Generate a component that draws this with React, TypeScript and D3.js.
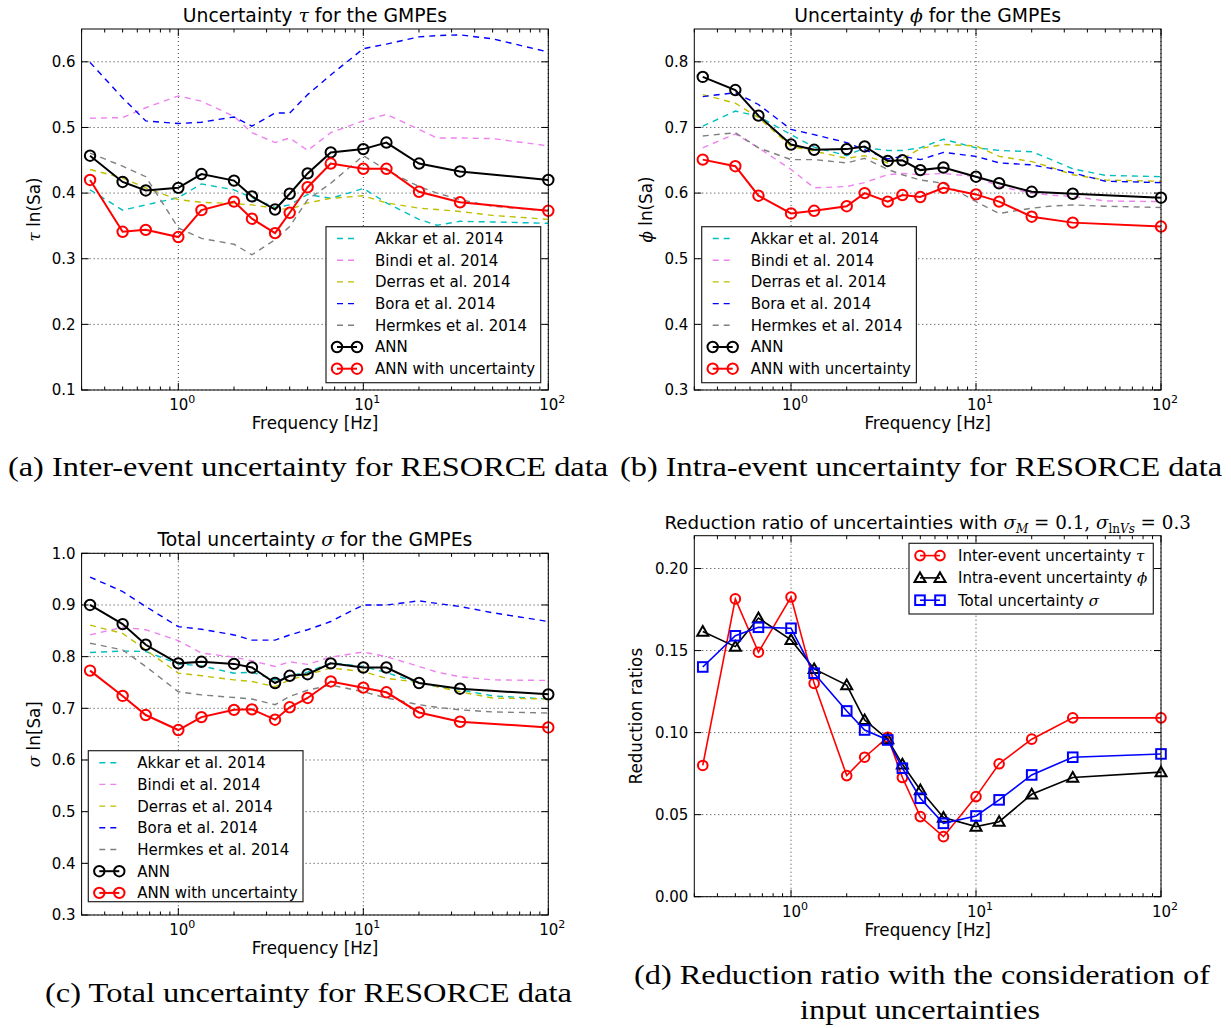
import React from "react";
import * as d3 from "d3";

// ---------- data ----------
const annFreqs = [1 / 3, 0.5, 2 / 3, 1, 4 / 3, 2, 2.5, 10 / 3, 4, 5, 20 / 3, 10, 40 / 3, 20, 100 / 3, 100];
const gmpeFreqs = [1 / 3, 0.5, 2 / 3, 1, 4 / 3, 2, 2.5, 10 / 3, 4, 5, 20 / 3, 10, 40 / 3, 20, 25, 100 / 3, 50, 100];

const gmpeNames = ["Akkar et al. 2014", "Bindi et al. 2014", "Derras et al. 2014", "Bora et al. 2014", "Hermkes et al. 2014"];
const annNames = ["ANN", "ANN with uncertainty"];
const xTickLabels = ["0", "1", "2"];

// inter-event tau
const tauAkkar = [0.405, 0.374, 0.382, 0.393, 0.414, 0.405, 0.393, 0.378, 0.382, 0.398, 0.392, 0.407, 0.385, 0.36, 0.351, 0.357, 0.356, 0.354];
const tauBindi = [0.514, 0.515, 0.53, 0.548, 0.54, 0.517, 0.492, 0.477, 0.484, 0.465, 0.492, 0.51, 0.52, 0.497, 0.484, 0.484, 0.483, 0.472];
const tauDerras = [0.436, 0.423, 0.408, 0.39, 0.386, 0.384, 0.382, 0.377, 0.375, 0.385, 0.392, 0.396, 0.385, 0.377, 0.375, 0.372, 0.366, 0.36];
const tauBora = [0.599, 0.545, 0.51, 0.506, 0.508, 0.516, 0.502, 0.522, 0.522, 0.55, 0.58, 0.62, 0.627, 0.638, 0.64, 0.641, 0.635, 0.615];
const tauHermkes = [0.461, 0.441, 0.425, 0.347, 0.331, 0.322, 0.306, 0.329, 0.349, 0.39, 0.415, 0.457, 0.435, 0.41, 0.4, 0.39, 0.38, 0.373];
const tauAnn = [0.457, 0.417, 0.404, 0.408, 0.429, 0.419, 0.395, 0.375, 0.399, 0.43, 0.462, 0.467, 0.477, 0.445, 0.433, 0.42];
const tauAnnUnc = [0.42, 0.341, 0.344, 0.333, 0.374, 0.387, 0.361, 0.339, 0.37, 0.409, 0.445, 0.437, 0.437, 0.402, 0.386, 0.373];

// intra-event phi
const phiAkkar = [0.702, 0.725, 0.717, 0.689, 0.67, 0.657, 0.669, 0.665, 0.665, 0.669, 0.682, 0.669, 0.665, 0.663, 0.652, 0.637, 0.627, 0.625];
const phiBindi = [0.669, 0.69, 0.669, 0.636, 0.608, 0.61, 0.616, 0.628, 0.63, 0.628, 0.63, 0.625, 0.61, 0.6, 0.597, 0.595, 0.588, 0.587];
const phiDerras = [0.75, 0.737, 0.715, 0.671, 0.664, 0.653, 0.657, 0.646, 0.652, 0.668, 0.674, 0.672, 0.656, 0.648, 0.64, 0.628, 0.62, 0.618];
const phiBora = [0.747, 0.753, 0.735, 0.697, 0.689, 0.677, 0.666, 0.652, 0.656, 0.651, 0.662, 0.656, 0.646, 0.643, 0.638, 0.631, 0.618, 0.616];
const phiHermkes = [0.687, 0.692, 0.669, 0.651, 0.651, 0.646, 0.653, 0.636, 0.628, 0.62, 0.615, 0.587, 0.569, 0.577, 0.58, 0.582, 0.58, 0.578];
const phiAnn = [0.777, 0.757, 0.718, 0.674, 0.666, 0.667, 0.671, 0.649, 0.65, 0.635, 0.639, 0.625, 0.615, 0.602, 0.599, 0.593];
const phiAnnUnc = [0.651, 0.641, 0.596, 0.569, 0.573, 0.58, 0.6, 0.587, 0.597, 0.594, 0.608, 0.598, 0.587, 0.564, 0.555, 0.549];

// total sigma
const sigAkkar = [0.808, 0.811, 0.81, 0.786, 0.782, 0.768, 0.77, 0.755, 0.763, 0.77, 0.788, 0.781, 0.769, 0.749, 0.742, 0.736, 0.724, 0.718];
const sigBindi = [0.842, 0.857, 0.852, 0.831, 0.807, 0.799, 0.792, 0.781, 0.79, 0.785, 0.799, 0.809, 0.8, 0.781, 0.77, 0.761, 0.755, 0.754];
const sigDerras = [0.861, 0.845, 0.813, 0.768, 0.763, 0.755, 0.752, 0.742, 0.755, 0.765, 0.778, 0.771, 0.758, 0.75, 0.742, 0.732, 0.72, 0.718];
const sigBora = [0.954, 0.926, 0.897, 0.858, 0.853, 0.842, 0.832, 0.832, 0.842, 0.852, 0.868, 0.9, 0.9, 0.908, 0.903, 0.897, 0.885, 0.868];
const sigHermkes = [0.826, 0.813, 0.781, 0.732, 0.726, 0.721, 0.718, 0.707, 0.723, 0.735, 0.745, 0.732, 0.72, 0.707, 0.702, 0.697, 0.693, 0.691];
const sigAnn = [0.9, 0.863, 0.823, 0.787, 0.79, 0.786, 0.779, 0.749, 0.763, 0.766, 0.787, 0.779, 0.779, 0.749, 0.738, 0.727];
const sigAnnUnc = [0.773, 0.724, 0.687, 0.658, 0.683, 0.697, 0.698, 0.678, 0.702, 0.72, 0.752, 0.74, 0.731, 0.692, 0.674, 0.663];

// reduction ratios
const ratioTau = [0.08, 0.1815, 0.149, 0.1826, 0.13, 0.0738, 0.085, 0.0972, 0.0726, 0.0488, 0.0366, 0.061, 0.081, 0.096, 0.109, 0.109];
const ratioPhi = [0.1616, 0.1524, 0.1698, 0.1565, 0.1388, 0.129, 0.1077, 0.096, 0.0807, 0.065, 0.0482, 0.0427, 0.0457, 0.0624, 0.0726, 0.0759];
const ratioSigma = [0.14, 0.159, 0.1642, 0.1636, 0.1362, 0.1132, 0.1016, 0.0955, 0.0783, 0.06, 0.0447, 0.0492, 0.059, 0.0742, 0.085, 0.087];

const tauTicks = [0.1, 0.2, 0.3, 0.4, 0.5, 0.6];
const phiTicks = [0.3, 0.4, 0.5, 0.6, 0.7, 0.8];
const sigTicks = [0.3, 0.4, 0.5, 0.6, 0.7, 0.8, 0.9, 1.0];
const ratioTicks = [0, 0.05, 0.1, 0.15, 0.2];

// ---------- styles ----------
const gmpeColors = ["#00bfbf", "#ee82ee", "#bfbf00", "#0000ff", "#808080"];
const SANS = "DejaVu Sans";
const MATH = "DejaVu Serif";
const CAP = "Liberation Serif";
const LABEL_SIZE = 16.8;

type Series = {
  freqs: number[];
  vals: number[];
  color: string;
  dashed?: boolean;
  marker?: "circle" | "triangle" | "square";
  width: number;
  label: React.ReactNode;
};

type PanelProps = {
  x0: number; x1: number; y0: number; y1: number;
  yDomain: [number, number];
  yTicks: number[];
  yFmt: (v: number) => string;
  title: React.ReactNode;
  titleSize: number;
  ylabel: React.ReactNode;
  ylabelOff: number;
  series: Series[];
  legend: { x: number; y: number; w: number; h: number; rowH: number; first: number; ms: number };
};

function Marker({ kind, x, y, color, size }: { kind: string; x: number; y: number; color: string; size: number }) {
  if (kind === "circle") return <circle cx={x} cy={y} r={size} fill="none" stroke={color} strokeWidth={2} />;
  if (kind === "square")
    return <rect x={x - size} y={y - size} width={size * 2} height={size * 2} fill="none" stroke={color} strokeWidth={2} />;
  const s = size * 1.15;
  return (
    <path
      d={`M${x},${y - s} L${x + s},${y + s * 0.75} L${x - s},${y + s * 0.75} Z`}
      fill="none"
      stroke={color}
      strokeWidth={2}
      strokeLinejoin="miter"
    />
  );
}

function Panel(p: PanelProps) {
  const x = d3.scaleLog().domain([0.3, 100]).range([p.x0, p.x1]);
  const y = d3.scaleLinear().domain(p.yDomain).range([p.y1, p.y0]);
  const line = d3
    .line<[number, number]>()
    .x((d) => x(d[0]))
    .y((d) => y(d[1]));
  const majors = [1, 10, 100];
  const minors: number[] = [];
  [0.1, 1, 10].forEach((dec) => {
    for (let k = 2; k <= 9; k++) {
      const v = k * dec;
      if (v >= 0.3 && v <= 100) minors.push(v);
    }
  });
  const cx = (p.x0 + p.x1) / 2;
  const cy = (p.y0 + p.y1) / 2;
  const L = p.legend;
  return (
    <g fontFamily={SANS}>
      {/* grid */}
      {majors.map((m) => (
        <line key={"gx" + m} x1={x(m)} x2={x(m)} y1={p.y0} y2={p.y1} stroke="#000" strokeWidth={0.8} strokeDasharray="1,3" />
      ))}
      {p.yTicks.map((t) => (
        <line key={"gy" + t} x1={p.x0} x2={p.x1} y1={y(t)} y2={y(t)} stroke="#000" strokeWidth={0.8} strokeDasharray="1,3" />
      ))}
      {/* series */}
      {p.series.map((s, i) => {
        const pts = s.freqs.map((f, j) => [f, s.vals[j]] as [number, number]);
        return (
          <g key={"s" + i}>
            <path
              d={line(pts) || ""}
              fill="none"
              stroke={s.color}
              strokeWidth={s.width}
              strokeDasharray={s.dashed ? "6,5" : undefined}
            />
            {s.marker &&
              pts.map((d, j) => (
                <Marker key={j} kind={s.marker!} x={x(d[0])} y={y(d[1])} color={s.color} size={L.ms} />
              ))}
          </g>
        );
      })}
      {/* ticks */}
      {majors.map((m) => (
        <g key={"tx" + m}>
          <line x1={x(m)} x2={x(m)} y1={p.y1} y2={p.y1 - 7} stroke="#000" />
          <line x1={x(m)} x2={x(m)} y1={p.y0} y2={p.y0 + 7} stroke="#000" />
        </g>
      ))}
      {minors.map((m) => (
        <g key={"mx" + m}>
          <line x1={x(m)} x2={x(m)} y1={p.y1} y2={p.y1 - 3.5} stroke="#000" />
          <line x1={x(m)} x2={x(m)} y1={p.y0} y2={p.y0 + 3.5} stroke="#000" />
        </g>
      ))}
      {p.yTicks.map((t) => (
        <g key={"ty" + t}>
          <line x1={p.x0} x2={p.x0 + 7} y1={y(t)} y2={y(t)} stroke="#000" />
          <line x1={p.x1} x2={p.x1 - 7} y1={y(t)} y2={y(t)} stroke="#000" />
          <text x={p.x0 - 6} y={y(t)} dy="0.36em" textAnchor="end" fontSize={15}>
            {p.yFmt(t)}
          </text>
        </g>
      ))}
      {majors.map((m, i) => (
        <text key={"lx" + m} x={x(m) + 4} y={p.y1 + 20} textAnchor="middle" fontSize={15}>
          10
          <tspan dy={-7} fontSize={11}>
            {xTickLabels[i]}
          </tspan>
        </text>
      ))}
      <rect x={p.x0} y={p.y0} width={p.x1 - p.x0} height={p.y1 - p.y0} fill="none" stroke="#000" strokeWidth={1} />
      {/* labels */}
      <text x={cx} y={p.y1 + 39} textAnchor="middle" fontSize={LABEL_SIZE}>
        Frequency [Hz]
      </text>
      <text transform={`translate(${p.x0 - p.ylabelOff},${cy}) rotate(-90)`} textAnchor="middle" fontSize={LABEL_SIZE}>
        {p.ylabel}
      </text>
      <text x={cx} y={p.y0 - 7} textAnchor="middle" fontSize={p.titleSize}>
        {p.title}
      </text>
      {/* legend */}
      <g>
        <rect x={L.x} y={L.y} width={L.w} height={L.h} fill="#fff" stroke="#222" strokeWidth={1.2} />
        {p.series.map((s, i) => {
          const ry = L.y + L.first + i * L.rowH;
          const hx0 = L.x + 11;
          const hx1 = L.x + 31;
          return (
            <g key={"lg" + i}>
              <line x1={hx0} x2={hx1} y1={ry} y2={ry} stroke={s.color} strokeWidth={s.width} strokeDasharray={s.dashed ? "6,5" : undefined} />
              {s.marker && (
                <>
                  <Marker kind={s.marker} x={hx0} y={ry} color={s.color} size={L.ms} />
                  <Marker kind={s.marker} x={hx1} y={ry} color={s.color} size={L.ms} />
                </>
              )}
              <text x={L.x + 49} y={ry} dy="0.36em" fontSize={15}>
                {s.label}
              </text>
            </g>
          );
        })}
      </g>
    </g>
  );
}

const G = (c: string) => (
  <tspan fontFamily={MATH} fontStyle="italic">
    {c}
  </tspan>
);

function gmpeSeries(a: number[], b: number[], c: number[], d: number[], e: number[], ann: number[], annU: number[]): Series[] {
  const g = [a, b, c, d, e].map((vals, i) => ({
    freqs: gmpeFreqs,
    vals,
    color: gmpeColors[i],
    dashed: true,
    width: 1.4,
    label: gmpeNames[i],
  }));
  return [
    ...g,
    { freqs: annFreqs, vals: ann, color: "#000", marker: "circle", width: 2, label: annNames[0] },
    { freqs: annFreqs, vals: annU, color: "#ff0000", marker: "circle", width: 2, label: annNames[1] },
  ];
}

const f1 = (v: number) => v.toFixed(1);
const f2 = (v: number) => v.toFixed(2);

export default function App() {
  return (
    <svg width={1231} height={1028} style={{ position: "absolute", left: 0, top: 0, background: "#fff" }}>
      <rect x={0} y={0} width={1231} height={1028} fill="#fff" />
      <Panel
        x0={81.6} x1={548.3} y0={29} y1={390}
        yDomain={[0.1, 0.65]}
        yTicks={tauTicks}
        yFmt={f1}
        title={<>Uncertainty {G("τ")} for the GMPEs</>}
        titleSize={18.8}
        ylabel={<>{G("τ")} ln(Sa)</>}
        ylabelOff={42}
        series={gmpeSeries(tauAkkar, tauBindi, tauDerras, tauBora, tauHermkes, tauAnn, tauAnnUnc)}
        legend={{ x: 326, y: 226.7, w: 214.7, h: 156, rowH: 21.7, first: 11.8, ms: 5.2 }}
      />
      <Panel
        x0={694.3} x1={1161} y0={29} y1={390}
        yDomain={[0.3, 0.85]}
        yTicks={phiTicks}
        yFmt={f1}
        title={<>Uncertainty {G("ϕ")} for the GMPEs</>}
        titleSize={18.8}
        ylabel={<>{G("ϕ")} ln(Sa)</>}
        ylabelOff={42}
        series={gmpeSeries(phiAkkar, phiBindi, phiDerras, phiBora, phiHermkes, phiAnn, phiAnnUnc)}
        legend={{ x: 701.7, y: 226.7, w: 214.7, h: 156, rowH: 21.7, first: 11.8, ms: 5.2 }}
      />
      <Panel
        x0={81.6} x1={548.3} y0={553.3} y1={915}
        yDomain={[0.3, 1.0]}
        yTicks={sigTicks}
        yFmt={f1}
        title={<>Total uncertainty {G("σ")} for the GMPEs</>}
        titleSize={18.8}
        ylabel={<>{G("σ")} ln[Sa]</>}
        ylabelOff={42}
        series={gmpeSeries(sigAkkar, sigBindi, sigDerras, sigBora, sigHermkes, sigAnn, sigAnnUnc)}
        legend={{ x: 88.3, y: 750.7, w: 214.7, h: 151, rowH: 21.7, first: 12, ms: 5.2 }}
      />
      <Panel
        x0={694.3} x1={1161} y0={535.7} y1={896.7}
        yDomain={[0, 0.22]}
        yTicks={ratioTicks}
        yFmt={f2}
        title={
          <>
            Reduction ratio of uncertainties with {G("σ")}
            <tspan fontFamily={MATH} fontStyle="italic" fontSize={12} dy={4}>M</tspan>
            <tspan fontFamily={MATH} dy={-4}> = 0.1, </tspan>
            {G("σ")}
            <tspan fontFamily={MATH} fontSize={12} dy={4}>ln</tspan>
            <tspan fontFamily={MATH} fontStyle="italic" fontSize={12}>Vs</tspan>
            <tspan fontFamily={MATH} dy={-4}> = 0.3</tspan>
          </>
        }
        titleSize={18.3}
        ylabel={<>Reduction ratios</>}
        ylabelOff={52}
        series={[
          { freqs: annFreqs, vals: ratioTau, color: "#ff0000", marker: "circle", width: 1.6, label: <>Inter-event uncertainty {G("τ")}</> },
          { freqs: annFreqs, vals: ratioPhi, color: "#000", marker: "triangle", width: 1.6, label: <>Intra-event uncertainty {G("ϕ")}</> },
          { freqs: annFreqs, vals: ratioSigma, color: "#0000ff", marker: "square", width: 1.6, label: <>Total uncertainty {G("σ")}</> },
        ]}
        legend={{ x: 909, y: 543.3, w: 244.3, h: 70.7, rowH: 22.3, first: 12.3, ms: 4.8 }}
      />
      {/* captions */}
      <g fontFamily={CAP} fontSize={28} textAnchor="middle">
        <text x={308} y={476} textLength={600} lengthAdjust="spacingAndGlyphs">(a) Inter-event uncertainty for RESORCE data</text>
        <text x={921} y={476} textLength={602} lengthAdjust="spacingAndGlyphs">(b) Intra-event uncertainty for RESORCE data</text>
        <text x={308.5} y={1002} textLength={527} lengthAdjust="spacingAndGlyphs">(c) Total uncertainty for RESORCE data</text>
        <text x={922} y={984} textLength={576} lengthAdjust="spacingAndGlyphs">(d) Reduction ratio with the consideration of</text>
        <text x={920} y={1019} textLength={240} lengthAdjust="spacingAndGlyphs">input uncertainties</text>
      </g>
    </svg>
  );
}
